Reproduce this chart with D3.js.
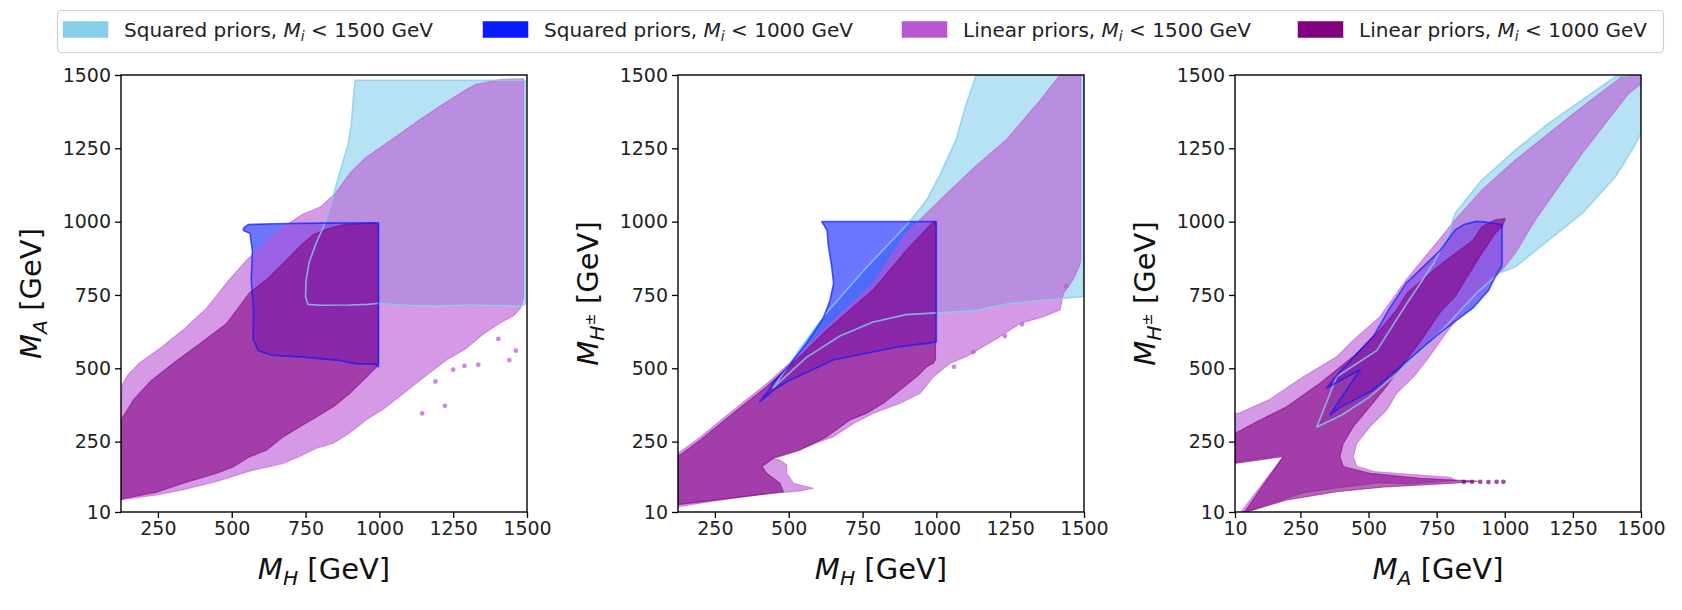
<!DOCTYPE html>
<html>
<head>
<meta charset="utf-8">
<script src="https://cdn.jsdelivr.net/npm/d3@7"></script>
<style>
body { margin: 0; background: #fff; }
svg { display: block; font-family: "DejaVu Sans", sans-serif; }
</style>
</head>
<body>
<svg id="chart" width="1682" height="610"></svg>
<script>
/* global d3 */

// contour outlines, in GeV: [x, y]
const p1SqHigh = [[918,1482],[1494,1482],[1494,720],[1482,712],[1400,714],[1300,716],[1200,712],[1100,714],[1000,722],[960,718],[900,716],[800,715],[758,718],[750,745],[752,800],[762,860],[785,925],[812,985],[838,1065],[868,1175],[892,1255],[905,1330],[912,1420]];
const p1SqLow = [[540,978],[556,990],[640,993],[800,995],[997,996],[997,505],[985,515],[924,515],[863,527],[742,538],[633,545],[590,560],[572,600],[574,700],[566,800],[570,900],[562,960],[540,970]];
const p1LinHigh = [[125,52],[125,380],[130,445],[150,480],[190,520],[260,570],[340,635],[415,705],[490,800],[548,866],[610,925],[680,985],[740,1025],[800,1050],[850,1095],[900,1165],[950,1215],[1020,1265],[1070,1300],[1140,1350],[1215,1400],[1290,1448],[1325,1467],[1410,1485],[1488,1487],[1488,740],[1478,705],[1455,680],[1410,655],[1350,615],[1290,565],[1230,530],[1170,485],[1070,405],[1013,360],[957,325],[900,280],[845,245],[788,228],[731,200],[675,176],[562,150],[449,114],[336,86],[246,68]];
const p1LinLow = [[125,54],[246,78],[336,108],[449,142],[505,164],[562,199],[618,221],[675,267],[731,301],[788,335],[844,369],[900,415],[957,471],[991,505],[997,520],[997,990],[980,995],[880,990],[827,976],[778,957],[730,915],[682,866],[621,805],[560,757],[483,653],[393,585],[302,517],[223,454],[167,392],[125,324]];
const p1Islands = [[1440,528],[1462,560],[1335,512],[1222,372],[1288,508],[1145,346],[1190,455],[1250,495],[1403,600]];

const p2SqHigh = [[1135,1500],[1500,1500],[1500,745],[1350,731],[1237,719],[1124,695],[1000,689],[898,683],[786,658],[673,610],[560,537],[447,433],[540,570],[629,690],[760,840],[909,999],[966,1072],[1011,1157],[1067,1279],[1101,1400]];
const p2SqLow = [[612,1000],[1000,1000],[1000,590],[967,585],[877,574],[764,551],[651,528],[493,454],[447,425],[402,386],[436,430],[447,452],[504,513],[560,586],[617,671],[640,732],[652,790],[645,850],[634,920],[630,970]];
const p2LinHigh = [[125,26],[125,210],[200,265],[312,357],[425,447],[538,550],[629,640],[786,790],[898,960],[1011,1072],[1124,1181],[1237,1279],[1350,1412],[1419,1500],[1489,1500],[1489,870],[1486,853],[1464,804],[1430,755],[1419,699],[1362,676],[1283,653],[1216,608],[1159,574],[1103,540],[1046,517],[990,471],[945,415],[877,381],[787,347],[719,312],[651,267],[561,233],[493,210],[437,193],[470,187],[493,170],[493,142],[516,108],[583,91],[538,82],[425,72],[312,57],[200,40],[127,28]];
const p2LinLow = [[125,35],[482,79],[470,108],[425,142],[410,165],[448,193],[538,221],[629,267],[707,324],[764,347],[820,381],[877,426],[933,471],[967,505],[990,517],[997,530],[997,1000],[989,999],[898,902],[786,768],[629,631],[538,540],[425,437],[312,347],[200,255],[125,199]];
const p2Islands = [[1060,505],[1125,555],[1232,610],[1290,650],[1440,780]];

const p3SqHigh = [[310,300],[383,471],[530,560],[640,720],[740,860],[790,950],[818,1029],[916,1142],[1039,1244],[1161,1335],[1284,1415],[1406,1494],[1500,1500],[1500,1301],[1467,1244],[1406,1153],[1284,1028],[1161,937],[1039,846],[978,824],[900,760],[780,640],[640,510],[500,400],[400,340]];
const p3SqLow = [[346,433],[395,488],[518,609],[579,707],[640,792],[762,901],[818,972],[850,990],[892,1000],[916,1000],[990,990],[990,850],[965,812],[940,765],[885,707],[762,621],[640,524],[518,427],[395,366],[359,342],[469,495]];
const p3LinHigh = [[10,345],[28,348],[138,394],[261,471],[383,539],[444,596],[542,676],[640,804],[758,937],[818,1006],[916,1108],[1039,1210],[1161,1301],[1284,1392],[1430,1494],[1480,1500],[1500,1500],[1500,1470],[1455,1437],[1369,1335],[1284,1233],[1198,1119],[1112,1006],[1039,893],[990,835],[920,770],[848,699],[775,608],[714,528],[665,471],[603,415],[567,358],[505,301],[457,244],[444,198],[457,166],[520,148],[650,138],[800,128],[820,118],[650,106],[542,110],[383,92],[261,76],[138,38],[50,10],[32,10],[192,205],[10,180]];
const p3LinLow = [[10,278],[77,312],[200,369],[322,449],[444,540],[542,631],[603,699],[640,755],[762,852],[885,938],[916,983],[965,1006],[1002,1011],[992,985],[965,960],[916,892],[864,815],[818,745],[762,690],[689,590],[628,515],[567,440],[505,369],[444,301],[407,244],[395,199],[407,165],[505,142],[689,125],[811,119],[900,115],[811,108],[567,96],[383,79],[200,51],[77,17],[45,10],[187,199],[10,176]];
const p3Spike = [[850,113],[880,113],[910,113],[940,112],[970,113],[995,113]];

const massTicks = [250, 500, 750, 1000, 1250, 1500];
const fullTicks = [10, 250, 500, 750, 1000, 1250, 1500];
const mhDomain = [125, 1500];
const fullDomain = [10, 1500];

const seriesNames = ["sqHigh", "sqLow", "linHigh", "linLow"];
const seriesColors = { sqHigh: "#87ceeb", sqLow: "#0a1aff", linHigh: "#ba55d3", linLow: "#800080" };
const legendLabels = [
	[{ t: "Squared priors, " }, { t: "M", italic: true }, { t: "i", italic: true, scale: 0.7, shift: 0.22 }, { t: " < 1500 GeV" }],
	[{ t: "Squared priors, " }, { t: "M", italic: true }, { t: "i", italic: true, scale: 0.7, shift: 0.22 }, { t: " < 1000 GeV" }],
	[{ t: "Linear priors, " }, { t: "M", italic: true }, { t: "i", italic: true, scale: 0.7, shift: 0.22 }, { t: " < 1500 GeV" }],
	[{ t: "Linear priors, " }, { t: "M", italic: true }, { t: "i", italic: true, scale: 0.7, shift: 0.22 }, { t: " < 1000 GeV" }],
];
const labelMH = [{ t: "M", italic: true }, { t: "H", italic: true, scale: 0.7, shift: 0.22 }, { t: " [GeV]" }];
const labelMA = [{ t: "M", italic: true }, { t: "A", italic: true, scale: 0.7, shift: 0.22 }, { t: " [GeV]" }];
const labelMHpm = [{ t: "M", italic: true }, { t: "H", italic: true, scale: 0.7, shift: 0.22 }, { t: "±", scale: 0.5, shift: -0.12 }, { t: " [GeV]" }];

const panels = [
	{ xDomain: mhDomain, xTicks: massTicks, xLabel: labelMH, yLabel: labelMA, shapes: { sqHigh: p1SqHigh, sqLow: p1SqLow, linHigh: p1LinHigh, linLow: p1LinLow }, dots: { linHigh: p1Islands } },
	{ xDomain: mhDomain, xTicks: massTicks, xLabel: labelMH, yLabel: labelMHpm, shapes: { sqHigh: p2SqHigh, sqLow: p2SqLow, linHigh: p2LinHigh, linLow: p2LinLow }, dots: { linHigh: p2Islands } },
	{ xDomain: fullDomain, xTicks: fullTicks, xLabel: labelMA, yLabel: labelMHpm, shapes: { sqHigh: p3SqHigh, sqLow: p3SqLow, linHigh: p3LinHigh, linLow: p3LinLow }, dots: { linLow: p3Spike } },
];

const svg = d3.select("#chart");
const panelLefts = [121, 678, 1235];
const panelTop = 75;
const panelWidth = 406;
const panelHeight = 437;
const tickFont = 19;
const labelFont = 29;

function richText(sel, parts, fontSize) {
	let shift = 0;
	parts.forEach((p) => {
		const target = (p.shift || 0) * fontSize;
		const ts = sel.append("tspan").attr("dy", target - shift).text(p.t);
		shift = target;
		if (p.italic) ts.attr("font-style", "italic");
		if (p.scale) ts.attr("font-size", fontSize * p.scale);
	});
}

panels.forEach((panel, i) => {
	const x = d3.scaleLinear().domain(panel.xDomain).range([0, panelWidth]);
	const y = d3.scaleLinear().domain(fullDomain).range([panelHeight, 0]);
	const line = d3.line().x((d) => x(d[0])).y((d) => y(d[1])).curve(d3.curveLinearClosed);

	const g = svg.append("g").attr("transform", `translate(${panelLefts[i]},${panelTop})`);
	g.append("clipPath").attr("id", `clip${i}`).append("rect").attr("width", panelWidth).attr("height", panelHeight);
	const plot = g.append("g").attr("clip-path", `url(#clip${i})`);

	for (const name of seriesNames) {
		const isLinear = name.startsWith("lin");
		plot.append("path")
			.attr("d", line(panel.shapes[name]))
			.attr("fill", seriesColors[name])
			.attr("fill-opacity", 0.6)
			.attr("stroke", isLinear ? seriesColors[name] : "none")
			.attr("stroke-opacity", 0.55)
			.attr("stroke-width", 1.2)
			.attr("stroke-linejoin", "round");
		const dots = panel.dots[name] || [];
		plot.selectAll(null)
			.data(dots)
			.join("circle")
			.attr("cx", (d) => x(d[0]))
			.attr("cy", (d) => y(d[1]))
			.attr("r", 2.4)
			.attr("fill", seriesColors[name])
			.attr("fill-opacity", 0.7);
	}

	// squared prior contours show through as lines on top
	plot.append("path").attr("d", line(panel.shapes.sqHigh)).attr("fill", "none").attr("stroke", seriesColors.sqHigh).attr("stroke-opacity", 0.8).attr("stroke-width", 1.6).attr("stroke-linejoin", "round");
	plot.append("path").attr("d", line(panel.shapes.sqLow)).attr("fill", "none").attr("stroke", seriesColors.sqLow).attr("stroke-opacity", 0.7).attr("stroke-width", 1.6).attr("stroke-linejoin", "round");

	const xAxis = g.append("g").attr("transform", `translate(0,${panelHeight})`).call(d3.axisBottom(x).tickValues(panel.xTicks).tickSize(6).tickPadding(4).tickFormat(d3.format("d")));
	const yAxis = g.append("g").call(d3.axisLeft(y).tickValues(fullTicks).tickSize(6).tickPadding(4).tickFormat(d3.format("d")));
	for (const axis of [xAxis, yAxis]) {
		axis.select(".domain").remove();
		axis.selectAll(".tick line").attr("stroke", "#000").attr("stroke-width", 1.3);
		axis.selectAll(".tick text").attr("font-size", tickFont).attr("font-family", "DejaVu Sans").attr("fill", "#222");
	}
	g.append("rect").attr("width", panelWidth).attr("height", panelHeight).attr("fill", "none").attr("stroke", "#000").attr("stroke-width", 1.4);

	const xl = g.append("text").attr("x", panelWidth / 2).attr("y", 504).attr("text-anchor", "middle").attr("font-size", labelFont).attr("fill", "#111");
	richText(xl, panel.xLabel, labelFont);
	const yl = g.append("text").attr("transform", `translate(-80,${panelHeight / 2}) rotate(-90)`).attr("text-anchor", "middle").attr("font-size", labelFont).attr("fill", "#111");
	richText(yl, panel.yLabel, labelFont);
});

// legend
const legend = svg.append("g");
legend.append("rect").attr("x", 57.5).attr("y", 10.5).attr("width", 1606).attr("height", 42).attr("rx", 4).attr("fill", "#fff").attr("stroke", "#d0d0d0").attr("stroke-width", 1.2);
const legendPatchX = [63, 483, 902, 1298];
seriesNames.forEach((name, i) => {
	legend.append("rect").attr("x", legendPatchX[i]).attr("y", 21.5).attr("width", 45).attr("height", 16).attr("fill", seriesColors[name]).attr("stroke", seriesColors[name]).attr("stroke-opacity", 0.5);
	const t = legend.append("text").attr("x", legendPatchX[i] + 61).attr("y", 37).attr("font-size", 20).attr("fill", "#222");
	richText(t, legendLabels[i], 20);
});
</script>
</body>
</html>
